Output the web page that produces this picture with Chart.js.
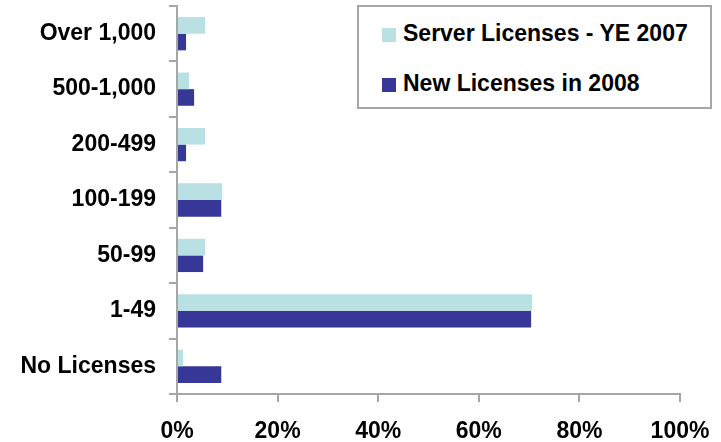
<!DOCTYPE html>
<html>
<head>
<meta charset="utf-8">
<script src="https://cdn.jsdelivr.net/npm/chart.js@4.4.1/dist/chart.umd.min.js"></script>
<style>
  body { margin: 0; background: #fff; }
  #wrap { position: relative; width: 721px; height: 442px; }
  #legend {
    position: absolute; left: 357px; top: 5px; width: 351px; height: 100px;
    border: 2px solid #a6a6a6; background: #fff;
    font: bold 23px "Liberation Sans", Arial, sans-serif; color: #000;
  }
  .item { position: absolute; left: 23px; white-space: nowrap; line-height: 26px; }
  .box { display: inline-block; width: 14px; height: 14px; margin-right: 7px; vertical-align: -1px; }
</style>
</head>
<body>
<div id="wrap">
  <canvas id="bar-chart" width="721" height="442"></canvas>
  <div id="legend"></div>
</div>
<script>
// license bands, top to bottom
var categories = ["Over 1,000", "500-1,000", "200-499", "100-199", "50-99", "1-49", "No Licenses"];
var serverYE2007 = [5.6, 2.4, 5.6, 9.0, 5.6, 70.6, 1.2];
var new2008 = [1.8, 3.4, 1.8, 8.8, 5.2, 70.4, 8.8];
var seriesNames = ["Server Licenses - YE 2007", "New Licenses in 2008"];
var seriesColors = ["#b9e1e4", "#363797"];
var xTicks = [0, 20, 40, 60, 80, 100];

var font = { family: '"Liberation Sans", Arial, sans-serif', size: 23, weight: 'bold' };
var axisGray = '#a6a6a6';

var chart = new Chart(document.getElementById("bar-chart"), {
  type: 'bar',
  data: {
    labels: categories,
    datasets: [
      { label: seriesNames[0], backgroundColor: seriesColors[0], data: serverYE2007 },
      { label: seriesNames[1], backgroundColor: seriesColors[1], data: new2008 }
    ]
  },
  options: {
    indexAxis: 'y',
    responsive: false,
    animation: false,
    categoryPercentage: 0.6,
    barPercentage: 1.0,
    layout: { padding: { top: 6, right: 41, left: 0, bottom: 0 } },
    plugins: {
      legend: { display: false },
      tooltip: { enabled: false }
    },
    scales: {
      x: {
        min: 0, max: 100,
        afterBuildTicks: function (axis) { axis.ticks = xTicks.map(function (v) { return { value: v }; }); },
        afterFit: function (axis) { axis.height = 48; axis.paddingLeft = 0; axis.paddingRight = 0; },
        ticks: { color: '#000', font: font, padding: 16, maxRotation: 0, callback: function (v) { return v + '%'; } },
        grid: { drawOnChartArea: false, color: axisGray, lineWidth: 2, tickLength: 8 },
        border: { color: axisGray, width: 2 }
      },
      y: {
        afterFit: function (axis) { axis.width = 177; axis.paddingTop = 0; axis.paddingBottom = 0; },
        ticks: { color: '#000', font: font, padding: 13 },
        grid: { drawOnChartArea: false, offset: true, color: axisGray, lineWidth: 2, tickLength: 8 },
        border: { color: axisGray, width: 2 }
      }
    }
  }
});

// legend built from the chart's datasets
var legend = document.getElementById('legend');
chart.data.datasets.forEach(function (ds, i) {
  var el = document.createElement('div');
  el.className = 'item';
  el.style.top = (13 + i * 50) + 'px';
  el.innerHTML = '<span class="box" style="background:' + ds.backgroundColor + '"></span>' + ds.label;
  legend.appendChild(el);
});
</script>
</body>
</html>
